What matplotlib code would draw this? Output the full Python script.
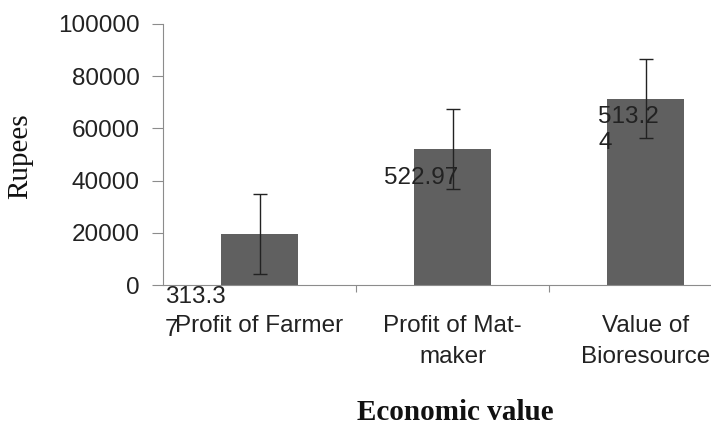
import matplotlib.pyplot as plt
import numpy as np

categories = ["Profit of Farmer", "Profit of Mat-\nmaker", "Value of\nBioresource"]
values = [19500, 52100, 71300]
errors = [15300, 15300, 15100]
data_labels = ["313.3\n7", "522.97", "513.2\n4"]
yticks = [0, 20000, 40000, 60000, 80000, 100000]

sans = "Liberation Sans"
serif = "Liberation Serif"
txt = "#222222"
fs = 17.5

fig = plt.figure(figsize=(7.11, 4.21), dpi=100)
ax = fig.add_axes([0.2293, 0.323, 0.8143, 0.620])

x = np.arange(len(categories))
ax.bar(x, values, width=0.4, color="#606060", zorder=2)
ax.errorbar(x, values, yerr=errors, fmt="none", ecolor="#222222",
            elinewidth=1, capsize=5, capthick=1, zorder=3)

ax.set_xlim(-0.5, 2.5)
ax.set_ylim(0, 100000)
ax.set_yticks(yticks)
ax.set_yticklabels([str(v) for v in yticks], fontsize=fs, family=sans, color=txt)

ax.set_xticks([0.5, 1.5])
ax.set_xticklabels([])
ax.tick_params(axis="x", length=5, color="#8c8c8c", direction="out")
ax.tick_params(axis="y", length=8, color="#8c8c8c", direction="out", pad=9)
for i, c in enumerate(categories):
    ax.text(i, -11500, c, ha="center", va="top", fontsize=fs, family=sans,
            color=txt, linespacing=1.55)

for s in ["top", "right"]:
    ax.spines[s].set_visible(False)
for s in ["left", "bottom"]:
    ax.spines[s].set_color("#8c8c8c")

# data labels as placed in the original
ax.text(-0.49, -500, data_labels[0], ha="left", va="top", fontsize=fs,
        family=sans, color=txt, linespacing=1.6)
ax.text(0.645, 41000, data_labels[1], ha="left", va="center", fontsize=fs,
        family=sans, color=txt)
ax.text(1.755, 68500, data_labels[2], ha="left", va="top", fontsize=fs,
        family=sans, color=txt, linespacing=1.2)

fig.text(0.028, 0.63, "Rupees", rotation=90, ha="center", va="center",
         fontsize=21, family=serif, color="#111111")
fig.text(0.64, -0.012, "Economic value", ha="center", va="bottom",
         fontsize=21, family=serif, fontweight="bold", color="#111111")

fig.savefig("out.png", dpi=100)
